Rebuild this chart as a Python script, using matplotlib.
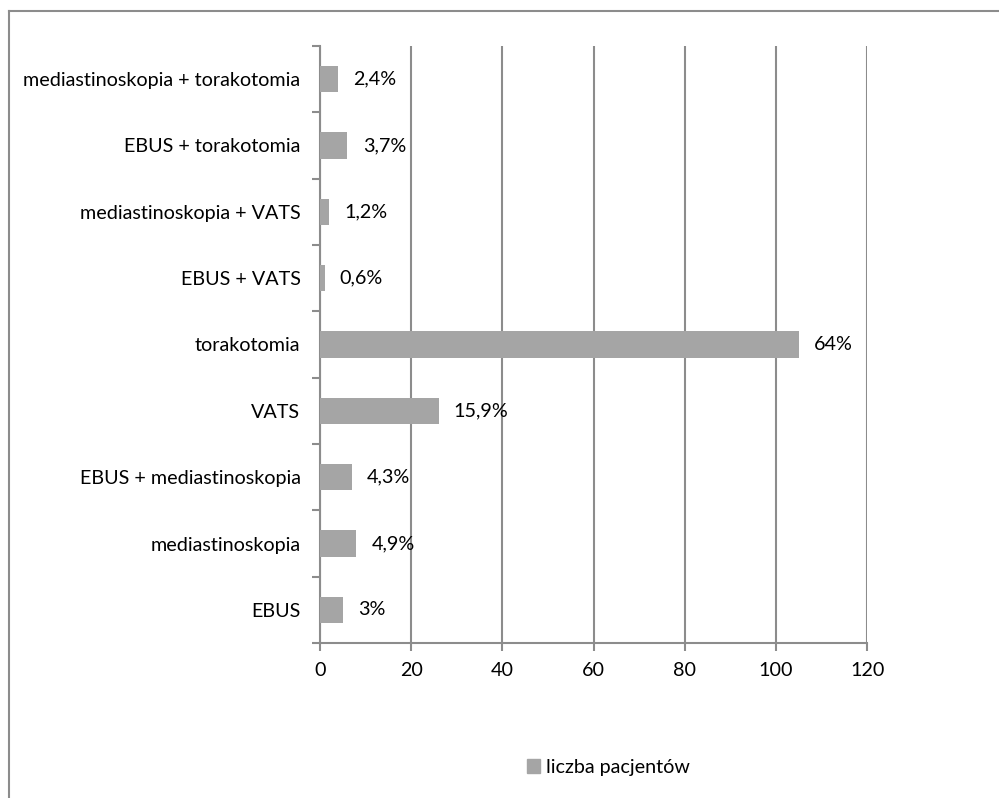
import matplotlib
matplotlib.use("Agg")
import matplotlib.pyplot as plt
from matplotlib.lines import Line2D
from matplotlib.patches import Patch

plt.rcParams['font.family'] = ['Lato', 'DejaVu Sans']

# procedury diagnostyczne / operacyjne
kategorie = ['EBUS', 'mediastinoskopia', 'EBUS + mediastinoskopia', 'VATS',
             'torakotomia', 'EBUS + VATS', 'mediastinoskopia + VATS',
             'EBUS + torakotomia', 'mediastinoskopia + torakotomia']
liczba = [5, 8, 7, 26, 105, 1, 2, 6, 4]
procent = ['3%', '4,9%', '4,3%', '15,9%', '64%', '0,6%', '1,2%', '3,7%', '2,4%']

szary = '#A5A5A5'
linia = '#8C8C8C'
fs = 14.2

fig = plt.figure(figsize=(9.99, 7.98), dpi=100)
ax = fig.add_axes([0.3203, 0.1942, 0.5476, 0.7482])

y = range(len(kategorie))
ax.barh(y, liczba, height=0.4, color=szary, zorder=3)

for i, (v, t) in enumerate(zip(liczba, procent)):
    ax.annotate(t, (v, i), xytext=(11, 0), textcoords='offset points',
                va='center', ha='left', fontsize=fs, color='#000000', zorder=4)

ax.set_xlim(0, 120)
ax.set_ylim(-0.5, len(kategorie) - 0.5)
ax.set_xticks(range(0, 121, 20))

# etykiety kategorii na srodku, kreski na granicach
ax.set_yticks(list(y))
ax.set_yticklabels(kategorie, fontsize=fs)
ax.set_yticks([i - 0.5 for i in range(len(kategorie) + 1)], minor=True)
ax.tick_params(axis='y', which='major', length=0, pad=14)
ax.tick_params(axis='y', which='minor', length=6, width=1.5, color=linia)
ax.tick_params(axis='x', length=6, width=1.5, color=linia, labelsize=fs, pad=8)

ax.grid(axis='x', color=linia, linewidth=1.5, zorder=0)
for s in ['top', 'right']:
    ax.spines[s].set_visible(False)
for s in ['left', 'bottom']:
    ax.spines[s].set_color(linia)
    ax.spines[s].set_linewidth(1.5)

fig.legend(handles=[Patch(color=szary, label='liczba pacjentów')],
           loc='center', bbox_to_anchor=(0.609, 0.038), frameon=False,
           fontsize=fs, handlelength=0.7, handleheight=0.7, handletextpad=0.3)

# ramka wykresu
fig.add_artist(Line2D([0.0095, 1.0], [0.9868, 0.9868], color=linia, linewidth=1.5,
                      transform=fig.transFigure))
fig.add_artist(Line2D([0.0095, 0.0095], [0.0, 0.9868], color=linia, linewidth=1.5,
                      transform=fig.transFigure))

fig.savefig('out.png', dpi=100, facecolor='white')
